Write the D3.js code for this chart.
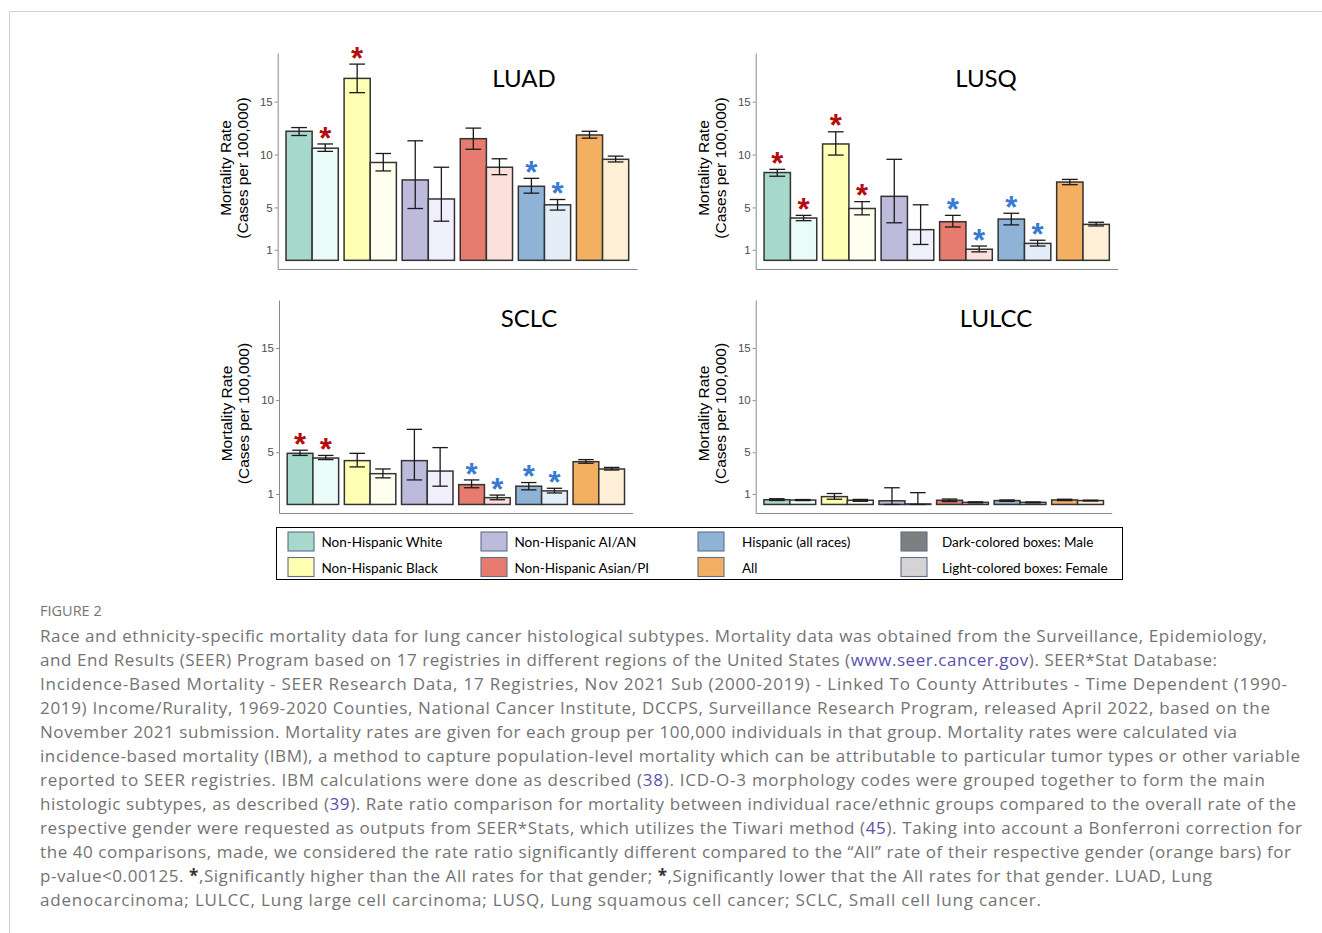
<!DOCTYPE html>
<html>
<head>
<meta charset="utf-8">
<script src="https://cdn.jsdelivr.net/npm/d3@7"></script>
<style>
  body { margin: 0; background: #fff; }
  svg { display: block; }
</style>
</head>
<body>
<div id="chart"></div>
<script>
// groups (x categories) and sexes
const groups = ['Non-Hispanic White', 'Non-Hispanic Black', 'Non-Hispanic AI/AN', 'Non-Hispanic Asian/PI', 'Hispanic (all races)', 'All'];
const sexes = ['Male', 'Female'];
const yTicks = [1, 5, 10, 15];

// LUAD
const luadMale = [12.2, 17.2, 7.6, 11.5, 7.0, 11.85];
const luadMaleLo = [11.8, 15.85, 4.9, 10.5, 6.35, 11.55];
const luadMaleHi = [12.55, 18.55, 11.3, 12.5, 7.75, 12.2];
const luadFemale = [10.6, 9.25, 5.8, 8.8, 5.25, 9.55];
const luadFemaleLo = [10.3, 8.45, 3.7, 8.1, 4.75, 9.3];
const luadFemaleHi = [11.0, 10.1, 8.8, 9.6, 5.75, 9.85];
const luadMaleSig = [null, 'hi', null, null, 'lo', null];
const luadFemaleSig = ['hi', null, null, null, 'lo', null];

// LUSQ
const lusqMale = [8.3, 11.0, 6.05, 3.65, 3.9, 7.4];
const lusqMaleLo = [7.95, 9.95, 3.55, 3.15, 3.35, 7.15];
const lusqMaleHi = [8.6, 12.15, 9.55, 4.25, 4.45, 7.65];
const lusqFemale = [4.0, 4.9, 2.9, 1.05, 1.6, 3.4];
const lusqFemaleLo = [3.75, 4.3, 1.5, 0.8, 1.35, 3.25];
const lusqFemaleHi = [4.25, 5.55, 5.25, 1.35, 1.9, 3.6];
const lusqMaleSig = ['hi', 'hi', null, 'lo', 'lo', null];
const lusqFemaleSig = ['hi', 'hi', null, 'lo', 'lo', null];

// SCLC
const sclcMale = [4.9, 4.2, 4.2, 1.9, 1.75, 4.1];
const sclcMaleLo = [4.7, 3.6, 2.35, 1.6, 1.4, 3.95];
const sclcMaleHi = [5.2, 4.9, 7.2, 2.35, 2.1, 4.3];
const sclcFemale = [4.45, 2.95, 3.2, 0.65, 1.3, 3.4];
const sclcFemaleLo = [4.3, 2.55, 1.75, 0.45, 1.1, 3.3];
const sclcFemaleHi = [4.7, 3.4, 5.45, 0.9, 1.55, 3.55];
const sclcMaleSig = ['hi', null, null, 'lo', 'lo', null];
const sclcFemaleSig = ['hi', null, null, 'lo', 'lo', null];

// LULCC
const lulccMale = [0.45, 0.75, 0.35, 0.4, 0.37, 0.43];
const lulccMaleLo = [0.38, 0.5, 0.0, 0.28, 0.3, 0.37];
const lulccMaleHi = [0.55, 1.05, 1.6, 0.52, 0.43, 0.5];
const lulccFemale = [0.42, 0.4, 0.05, 0.2, 0.2, 0.37];
const lulccFemaleLo = [0.37, 0.3, 0.0, 0.15, 0.15, 0.33];
const lulccFemaleHi = [0.47, 0.48, 1.13, 0.25, 0.24, 0.41];
const lulccMaleSig = [null, null, null, null, null, null];
const lulccFemaleSig = [null, null, null, null, null, null];

// legend labels
const legendLabels = ['Non-Hispanic White', 'Non-Hispanic Black', 'Non-Hispanic AI/AN', 'Non-Hispanic Asian/PI',
  'Hispanic (all races)', 'All', 'Dark-colored boxes: Male', 'Light-colored boxes: Female'];

// caption
const figureLabel = 'FIGURE 2';
const captionLines = [
  [['Race and ethnicity-specific mortality data for lung cancer histological subtypes. Mortality data was obtained from the Surveillance, Epidemiology,']],
  [['and End Results (SEER) Program based on 17 registries in different regions of the United States ('], ['www.seer.cancer.gov', 'link'], ['). SEER*Stat Database:']],
  [['Incidence-Based Mortality - SEER Research Data, 17 Registries, Nov 2021 Sub (2000-2019) - Linked To County Attributes - Time Dependent (1990-']],
  [['2019) Income/Rurality, 1969-2020 Counties, National Cancer Institute, DCCPS, Surveillance Research Program, released April 2022, based on the']],
  [['November 2021 submission. Mortality rates are given for each group per 100,000 individuals in that group. Mortality rates were calculated via']],
  [['incidence-based mortality (IBM), a method to capture population-level mortality which can be attributable to particular tumor types or other variable']],
  [['reported to SEER registries. IBM calculations were done as described ('], ['38', 'link'], ['). ICD-O-3 morphology codes were grouped together to form the main']],
  [['histologic subtypes, as described ('], ['39', 'link'], ['). Rate ratio comparison for mortality between individual race/ethnic groups compared to the overall rate of the']],
  [['respective gender were requested as outputs from SEER*Stats, which utilizes the Tiwari method ('], ['45', 'link'], ['). Taking into account a Bonferroni correction for']],
  [['the 40 comparisons, made, we considered the rate ratio significantly different compared to the \u201CAll\u201D rate of their respective gender (orange bars) for']],
  [['p-value<0.00125. '], ['*', 'bold'], [',Significantly higher than the All rates for that gender; '], ['*', 'bold'], [',Significantly lower that the All rates for that gender. LUAD, Lung']],
  [['adenocarcinoma; LULCC, Lung large cell carcinoma; LUSQ, Lung squamous cell cancer; SCLC, Small cell lung cancer.']]
];
const captionEnds = [1267, 1217, 1287, 1270, 1237, 1300, 1265, 1296, 1302, 1291, 1212, 1041];

// colours
const maleColors = ['#a6d9cc', '#ffffb3', '#bdbadb', '#e77b70', '#8fb3d6', '#f3b062'];
const femaleColors = ['#ebfbf8', '#fffff0', '#f0f0fc', '#fde0dc', '#e4eef9', '#feefd6'];

const config_size = { svg_width: 1322, svg_height: 933 };

const panels = [
  { title: 'LUAD', male: luadMale, maleLo: luadMaleLo, maleHi: luadMaleHi, female: luadFemale, femaleLo: luadFemaleLo, femaleHi: luadFemaleHi,
    maleSig: luadMaleSig, femaleSig: luadFemaleSig, x0: 277.7, x1: 637, yTop: 53, yBase: 269, titleX: 524, titleY: 87 },
  { title: 'LUSQ', male: lusqMale, maleLo: lusqMaleLo, maleHi: lusqMaleHi, female: lusqFemale, femaleLo: lusqFemaleLo, femaleHi: lusqFemaleHi,
    maleSig: lusqMaleSig, femaleSig: lusqFemaleSig, x0: 755.7, x1: 1117.7, yTop: 53, yBase: 269, titleX: 986, titleY: 87 },
  { title: 'SCLC', male: sclcMale, maleLo: sclcMaleLo, maleHi: sclcMaleHi, female: sclcFemale, femaleLo: sclcFemaleLo, femaleHi: sclcFemaleHi,
    maleSig: sclcMaleSig, femaleSig: sclcFemaleSig, x0: 279, x1: 632.7, yTop: 300, yBase: 513, titleX: 529, titleY: 327 },
  { title: 'LULCC', male: lulccMale, maleLo: lulccMaleLo, maleHi: lulccMaleHi, female: lulccFemale, femaleLo: lulccFemaleLo, femaleHi: lulccFemaleHi,
    maleSig: lulccMaleSig, femaleSig: lulccFemaleSig, x0: 755.7, x1: 1111.7, yTop: 300, yBase: 513, titleX: 996, titleY: 327 }
];

const svg = d3.select('#chart').append('svg')
  .attr('width', config_size.svg_width)
  .attr('height', config_size.svg_height);

svg.append('rect').attr('width', config_size.svg_width).attr('height', config_size.svg_height).attr('fill', '#fff');

// page frame
svg.append('path')
  .attr('d', 'M9.5,933 V11.5 H1322')
  .attr('fill', 'none')
  .attr('stroke', '#d0d0d0');

function drawPanel(p) {
  const g = svg.append('g').attr('class', 'panel');

  const x = d3.scaleBand().domain(groups).range([p.x0, p.x1]).paddingInner(0.1).paddingOuter(0.143);
  const xs = d3.scaleBand().domain(sexes).range([0, x.bandwidth()]);
  const y = d3.scaleLinear().domain([-0.82, 19.6]).range([p.yBase, p.yTop]);

  const rows = [];
  groups.forEach((grp, i) => {
    rows.push({ grp, sex: 'Male', v: p.male[i], lo: p.maleLo[i], hi: p.maleHi[i], sig: p.maleSig[i], fill: maleColors[i] });
    rows.push({ grp, sex: 'Female', v: p.female[i], lo: p.femaleLo[i], hi: p.femaleHi[i], sig: p.femaleSig[i], fill: femaleColors[i] });
  });

  // y axis
  const yAxis = g.append('g')
    .attr('transform', `translate(${p.x0},0)`)
    .call(d3.axisLeft(y).tickValues(yTicks).tickSize(3).tickSizeOuter(0).tickPadding(2));
  yAxis.select('.domain').attr('stroke', '#8a8a8a');
  yAxis.selectAll('.tick line').attr('stroke', '#8a8a8a');
  yAxis.selectAll('.tick text')
    .attr('fill', '#4d4d4d')
    .style('font-family', '"Liberation Sans", Arial, sans-serif')
    .style('font-size', '11.5px');

  // x axis (line only)
  const xAxis = g.append('g')
    .attr('transform', `translate(0,${p.yBase})`)
    .call(d3.axisBottom(x).tickSize(0).tickSizeOuter(0).tickFormat(''));
  xAxis.select('.domain').attr('stroke', '#8a8a8a');

  // y label
  const yMid = (p.yTop + p.yBase) / 2 + 7;
  const ylab = g.append('text')
    .attr('transform', `translate(${p.x0 - 47},${yMid}) rotate(-90)`)
    .attr('text-anchor', 'middle')
    .style('font-family', '"Liberation Sans", Arial, sans-serif')
    .style('font-size', '15.5px')
    .attr('fill', '#000');
  ylab.append('tspan').attr('x', 0).attr('y', 0).text('Mortality Rate');
  ylab.append('tspan').attr('x', 0).attr('y', 17).text('(Cases per 100,000)');

  // bars
  g.selectAll('rect.bar').data(rows).join('rect')
    .attr('class', 'bar')
    .attr('x', d => x(d.grp) + xs(d.sex))
    .attr('y', d => y(d.v))
    .attr('width', xs.bandwidth())
    .attr('height', d => y(0) - y(d.v))
    .attr('fill', d => d.fill)
    .attr('stroke', '#333')
    .attr('stroke-width', 1.5);

  // error bars
  const capW = xs.bandwidth() * 0.6;
  const err = g.selectAll('g.err').data(rows).join('g').attr('class', 'err')
    .attr('transform', d => `translate(${x(d.grp) + xs(d.sex) + xs.bandwidth() / 2},0)`);
  err.append('line').attr('y1', d => y(d.lo)).attr('y2', d => y(d.hi));
  err.append('line').attr('x1', -capW / 2).attr('x2', capW / 2).attr('y1', d => y(d.hi)).attr('y2', d => y(d.hi));
  err.append('line').attr('x1', -capW / 2).attr('x2', capW / 2).attr('y1', d => y(d.lo)).attr('y2', d => y(d.lo));
  err.selectAll('line').attr('stroke', '#1a1a1a').attr('stroke-width', 1.3);

  // significance stars
  const fs = 31;
  g.selectAll('text.star').data(rows.filter(d => d.sig)).join('text')
    .attr('class', 'star')
    .attr('x', d => x(d.grp) + xs(d.sex) + xs.bandwidth() / 2)
    .attr('y', d => y(d.hi) - 13 + fs * 0.57)
    .attr('text-anchor', 'middle')
    .attr('fill', d => d.sig === 'hi' ? '#b40d0d' : '#3a7bd2')
    .style('font-family', '"Liberation Sans", Arial, sans-serif')
    .style('font-weight', 'bold')
    .style('font-size', fs + 'px')
    .text('*');

  // title
  g.append('text')
    .attr('x', p.titleX)
    .attr('y', p.titleY)
    .attr('text-anchor', 'middle')
    .style('font-family', 'Lato, "Open Sans", sans-serif')
    .style('font-size', '24px')
    .attr('fill', '#000')
    .text(p.title);
}

panels.forEach(drawPanel);

// legend
const legend = svg.append('g').attr('class', 'legend');
legend.append('rect')
  .attr('x', 276.5).attr('y', 527.5).attr('width', 846).attr('height', 52)
  .attr('fill', '#fff').attr('stroke', '#000').attr('stroke-width', 1);

const legendColors = [maleColors[0], maleColors[1], maleColors[2], maleColors[3], maleColors[4], maleColors[5], '#7f7f7f', '#d4d4d6'];
const legendSwatchX = [288, 481, 698, 901];
const legendTextX = [321.5, 514.5, 742, 942];
const legendRowY = [532, 557.5];

const legItems = legend.selectAll('g.item').data(legendLabels).join('g').attr('class', 'item');
legItems.append('rect')
  .attr('x', (d, i) => legendSwatchX[Math.floor(i / 2)])
  .attr('y', (d, i) => legendRowY[i % 2])
  .attr('width', 26).attr('height', 19)
  .attr('fill', (d, i) => legendColors[i])
  .attr('stroke', '#5d6e88').attr('stroke-width', 1.1);
legItems.append('text')
  .attr('x', (d, i) => legendTextX[Math.floor(i / 2)])
  .attr('y', (d, i) => legendRowY[i % 2] + 15)
  .style('font-family', 'Lato, "Open Sans", sans-serif')
  .style('font-size', '13.5px')
  .attr('fill', '#000')
  .text(d => d);

// caption
const capX = 40;
svg.append('text')
  .attr('x', capX).attr('y', 616)
  .style('font-family', '"Open Sans", sans-serif')
  .style('font-size', '14.5px')
  .style('font-weight', '500')
  .attr('fill', '#757575')
  .text(figureLabel);

const capText = svg.append('g').attr('class', 'caption');
captionLines.forEach((segs, i) => {
  const t = capText.append('text')
    .attr('x', capX)
    .attr('y', 641.7 + i * 24)
    .attr('textLength', captionEnds[i] - capX)
    .attr('lengthAdjust', 'spacing')
    .style('font-family', '"Open Sans", sans-serif')
    .style('font-size', '17px')
    .style('font-weight', '400')
    .attr('fill', '#737373');
  segs.forEach(s => {
    const ts = t.append('tspan').text(s[0]);
    if (s[1] === 'link') ts.attr('fill', '#5a4fae');
    if (s[1] === 'bold') ts.style('font-weight', '700').attr('fill', '#333');
  });
});
</script>
</body>
</html>
